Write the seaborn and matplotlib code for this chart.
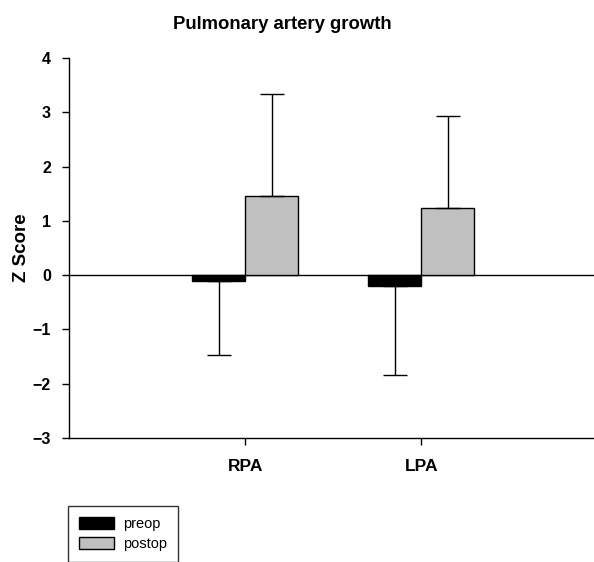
import numpy as np
import pandas as pd
import matplotlib
matplotlib.use("Agg")
import matplotlib.pyplot as plt
import seaborn as sns

# Pulmonary artery Z scores (mean and SD)
arteries = ["RPA", "LPA"]
groups = ["preop", "postop"]
preop_mean = [-0.10, -0.20]
postop_mean = [1.45, 1.23]
preop_sd = [1.38, 1.64]
postop_sd = [1.89, 1.71]
y_ticks = [-3, -2, -1, 0, 1, 2, 3, 4]

sns.set_theme(style="white")
plt.rcParams["font.family"] = ["Liberation Sans", "DejaVu Sans"]
plt.rcParams.update({"text.color": "black", "axes.labelcolor": "black",
                     "xtick.color": "black", "ytick.color": "black"})

df = pd.DataFrame({
    "artery": arteries * 2,
    "group": [groups[0]] * 2 + [groups[1]] * 2,
    "z": preop_mean + postop_mean,
})
sd_table = {("preop", a): s for a, s in zip(arteries, preop_sd)}
sd_table.update({("postop", a): s for a, s in zip(arteries, postop_sd)})

fig = plt.figure(figsize=(5.94, 5.62), dpi=100)
ax = fig.add_axes([69 / 594, 1 - 438 / 562, 525 / 594, 380 / 562])

sns.barplot(data=df, x="artery", y="z", hue="group", order=arteries,
            hue_order=groups, palette=["black", "#c0c0c0"], width=0.6,
            errorbar=None, edgecolor="black", linewidth=1.0, ax=ax,
            legend=False, saturation=1)

# one-sided SD whiskers: down for preop, up for postop
for container, grp in zip(ax.containers, groups):
    for bar, art in zip(container, arteries):
        xc = bar.get_x() + bar.get_width() / 2
        h = bar.get_height()
        sd = sd_table[(grp, art)]
        if grp == "preop":
            yerr = [[sd], [0]]
        else:
            yerr = [[0], [sd]]
        ax.errorbar([xc], [h], yerr=yerr, fmt="none", ecolor="black",
                    elinewidth=1.0, capsize=8.5, capthick=1.0, zorder=1)

ax.axhline(0, color="black", linewidth=1.0, zorder=0.5)
ax.set_xlim(-1.0, 1.98)
ax.set_ylim(-3, 4)
ax.set_yticks(y_ticks)
ax.set_yticklabels([str(t).replace("-", "\u2212") for t in y_ticks],
                   fontweight="bold", fontsize=11.5)
ax.set_xticks(range(len(arteries)))
ax.set_xticklabels(arteries, fontweight="bold", fontsize=12.5)
ax.tick_params(axis="both", direction="out", length=5, width=1,
               color="black", left=True, bottom=True, pad=8)
ax.tick_params(axis="x", pad=10)
for side in ["top", "right"]:
    ax.spines[side].set_visible(False)
for side in ["left", "bottom"]:
    ax.spines[side].set_color("black")
    ax.spines[side].set_linewidth(1.0)
ax.set_xlabel("")
ax.set_ylabel("Z Score", fontweight="bold", fontsize=13.5, labelpad=2)
fig.suptitle("Pulmonary artery growth", fontweight="bold", fontsize=13.3,
             x=0.475, y=0.972)

handles = [plt.Rectangle((0, 0), 1, 1, facecolor="black", edgecolor="black"),
           plt.Rectangle((0, 0), 1, 1, facecolor="#c0c0c0", edgecolor="black")]
leg = fig.legend(handles, groups, loc="upper left",
                 bbox_to_anchor=(68 / 594, 1 - 506 / 562), frameon=True,
                 fancybox=False, fontsize=10.5, handlelength=2.4,
                 handleheight=0.85, handletextpad=0.6, labelspacing=0.4,
                 borderpad=0.75, borderaxespad=0)
leg.get_frame().set_edgecolor("black")
leg.get_frame().set_linewidth(1.0)

fig.savefig("out.png", dpi=100)
